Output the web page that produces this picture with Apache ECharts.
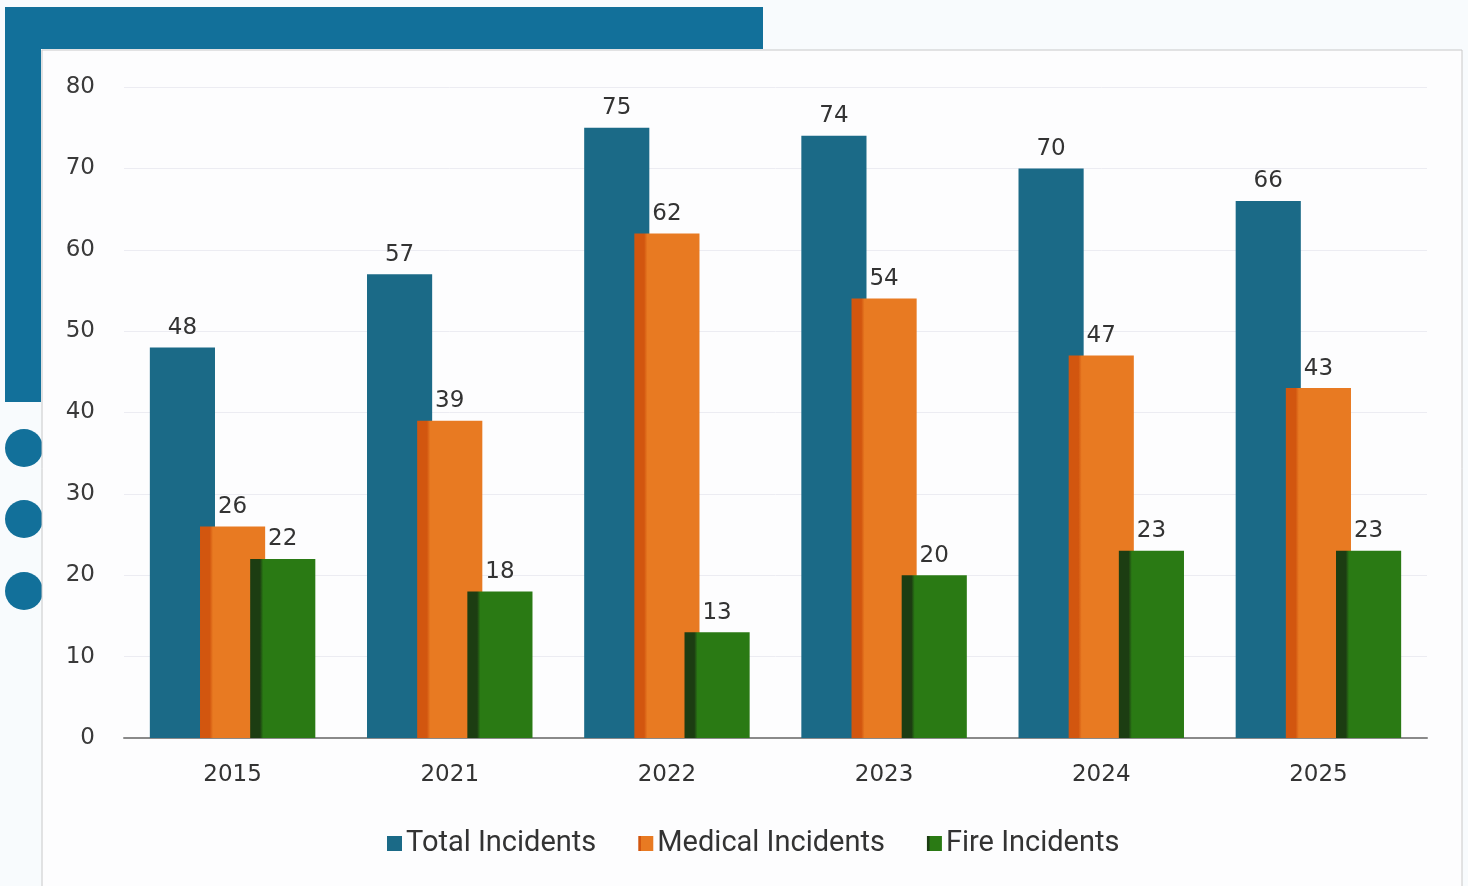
<!DOCTYPE html>
<html>
<head>
<meta charset="utf-8">
<script src="https://cdn.jsdelivr.net/npm/echarts@6/dist/echarts.min.js"></script>
<style>
html,body{margin:0;padding:0;background:#f8fbfd;}
#c{width:1468px;height:886px;}
</style>
</head>
<body>
<div id="c"></div>
<script>
const categories = ['2015','2021','2022','2023','2024','2025'];
const totalIncidents = [48,57,75,74,70,66];
const medicalIncidents = [26,39,62,54,47,43];
const fireIncidents = [22,18,13,20,23,23];
const yTicks = [0,10,20,30,40,50,60,70,80];

const chart = echarts.init(document.getElementById('c'));
function grad(dark, main){
  return new echarts.graphic.LinearGradient(0,0,1,0,[
    {offset:0,color:dark},{offset:0.15,color:dark},{offset:0.2,color:main},{offset:1,color:main}
  ]);
}
const labelStyle = {show:true, position:'top', distance:8, color:'#333', fontSize:23, fontFamily:'DejaVu Sans'};
chart.setOption({
  animation:false,
  backgroundColor:'#f8fbfd',
  graphic:[
    {type:'rect', z:-10, shape:{x:5,y:7,width:758,height:42}, style:{fill:'#12709a'}},
    {type:'rect', z:-10, shape:{x:5,y:7,width:36,height:395}, style:{fill:'#12709a'}},
    {type:'circle', z:-10, shape:{cx:24,cy:448,r:19}, style:{fill:'#12709a'}},
    {type:'circle', z:-10, shape:{cx:24,cy:519,r:19}, style:{fill:'#12709a'}},
    {type:'circle', z:-10, shape:{cx:24,cy:591,r:19}, style:{fill:'#12709a'}},
    {type:'rect', z:-9, shape:{x:42,y:50,width:1420,height:840}, style:{fill:'#fdfdfe', stroke:'#c8c8c8', lineWidth:1}}
  ],
  legend:{
    bottom:23, left:382,
    itemWidth:15, itemHeight:15, itemGap:42,
    icon:'rect',
    textStyle:{fontSize:29, color:'#333', fontFamily:'Roboto, sans-serif', padding:[0,0,0,-1]},
    data:['Total Incidents','Medical Incidents','Fire Incidents']
  },
  grid:{left:124, right:41, top:87, bottom:148, containLabel:false},
  xAxis:{
    type:'category', data:categories,
    axisLine:{lineStyle:{color:'#8a8a8a', width:2}},
    axisTick:{show:false},
    axisLabel:{fontSize:23, color:'#333', margin:26, fontFamily:'DejaVu Sans'}
  },
  yAxis:{
    type:'value', min:0, max:80, interval:10,
    axisLine:{show:false}, axisTick:{show:false},
    splitLine:{lineStyle:{color:'#ececf2', width:1}},
    axisLabel:{fontSize:23, color:'#3a3a3a', margin:29, fontFamily:'DejaVu Sans',
      formatter:v=>yTicks.includes(v)?String(v):''}
  },
  series:[
    {name:'Total Incidents', type:'bar', data:totalIncidents, barWidth:'30%', barGap:'-23%',
      itemStyle:{color:'#1b6a87'}, label:labelStyle},
    {name:'Medical Incidents', type:'bar', data:medicalIncidents, barWidth:'30%', barGap:'-23%',
      itemStyle:{color:grad('#d2560f','#e87a22')}, label:labelStyle},
    {name:'Fire Incidents', type:'bar', data:fireIncidents, barWidth:'30%', barGap:'-23%',
      itemStyle:{color:grad('#1c3d12','#2a7a14')}, label:labelStyle}
  ]
});
</script>
</body>
</html>
